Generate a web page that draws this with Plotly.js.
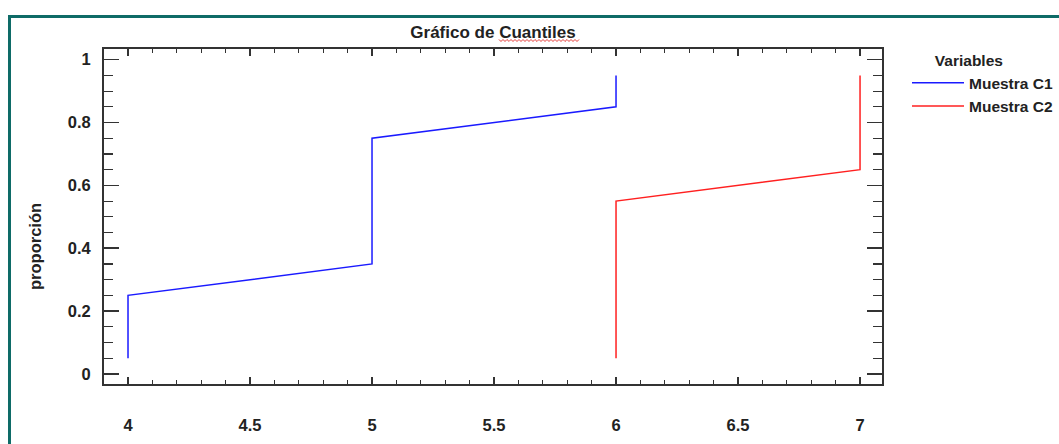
<!DOCTYPE html>
<html>
<head>
<meta charset="utf-8">
<script src="https://cdn.plot.ly/plotly-3.0.1.min.js"></script>
<style>
  html, body { margin: 0; padding: 0; background: #ffffff; overflow: hidden; }
  #frame {
    position: absolute; left: 8px; top: 15px; width: 1200px; height: 600px;
    border-left: 3.5px solid #0e6b67; border-top: 3.5px solid #0e6b67;
    box-sizing: border-box;
  }
  #chart { position: absolute; left: 0; top: 0; width: 1059px; height: 444px; }
</style>
</head>
<body>
<div id="frame"></div>
<div id="chart"></div>
<script>
// Sorted sample values and their plotting proportions
const proporcion = [0.05, 0.15, 0.25, 0.35, 0.45, 0.55, 0.65, 0.75, 0.85, 0.95];
const muestraC1 = [4, 4, 4, 5, 5, 5, 5, 5, 6, 6];
const muestraC2 = [6, 6, 6, 6, 6, 6, 7, 7, 7, 7];
const seriesNames = ['Muestra C1', 'Muestra C2'];
const xTicks = [4, 4.5, 5, 5.5, 6, 6.5, 7];
const yTicks = [0, 0.2, 0.4, 0.6, 0.8, 1];

const FONT = 'Liberation Sans, Arial, sans-serif';
const INK = '#222222';
const FS = 16.5;
const LEG_FS = 15.5;

// plot-area pixel box used to place the title underline
const L = 104, R = 882, T = 49, B = 384;
const px = v => (v - L) / (R - L);
const py = v => (B - v) / (B - T);

// red wavy underline under the second word of the title
let wave = '';
for (let xx = 499, k = 0; xx <= 580; xx += 2, k++) {
  const yy = 40.5 + (k % 2 === 0 ? -1 : 1);
  wave += (k === 0 ? 'M' : 'L') + px(xx).toFixed(5) + ',' + py(yy).toFixed(5) + ' ';
}

const traces = [
  { x: muestraC1, y: proporcion, name: seriesNames[0], type: 'scatter', mode: 'lines',
    line: { color: '#1a1aff', width: 1.5 } },
  { x: muestraC2, y: proporcion, name: seriesNames[1], type: 'scatter', mode: 'lines',
    line: { color: '#ff2020', width: 1.5 } }
];

const axisCommon = {
  showgrid: false, zeroline: false, showline: true, linecolor: '#333333', linewidth: 2,
  mirror: 'allticks', ticks: 'inside', tickcolor: '#333333', tickwidth: 1.5,
  tickfont: { family: FONT, size: FS, color: INK, weight: 'bold' }
};

const layout = {
  width: 1059, height: 444,
  paper_bgcolor: 'rgba(0,0,0,0)', plot_bgcolor: '#ffffff',
  margin: { l: L, r: 1059 - R, t: T, b: 444 - B, pad: 0, autoexpand: false },
  title: {
    text: 'Gráfico de Cuantiles', x: 0.5, xref: 'paper', xanchor: 'center',
    y: 1 - 32 / 444, yref: 'container', yanchor: 'middle',
    font: { family: FONT, size: 17, color: INK, weight: 'bold' }
  },
  xaxis: Object.assign({}, axisCommon, {
    range: [3.9016, 7.09], tickvals: xTicks, ticklen: 7, ticklabelstandoff: 25,
    minor: { dtick: 0.1, ticks: 'inside', ticklen: 4, tickcolor: '#333333', tickwidth: 1.2, showgrid: false }
  }),
  yaxis: Object.assign({}, axisCommon, {
    range: [-0.032, 1.034], tickvals: yTicks, ticktext: ['0', '0.2', '0.4', '0.6', '0.8', '1'],
    ticklen: 15, ticklabelstandoff: 8,
    minor: { dtick: 0.05, ticks: 'inside', ticklen: 9, tickcolor: '#333333', tickwidth: 1.2, showgrid: false }
  }),
  legend: {
    x: px(907), xanchor: 'left', y: py(46), yanchor: 'top',
    bgcolor: 'rgba(0,0,0,0)', borderwidth: 0,
    font: { family: FONT, size: LEG_FS, color: INK, weight: 'bold' },
    title: { text: '      Variables', side: 'top', font: { family: FONT, size: LEG_FS, color: INK, weight: 'bold' } },
    tracegroupgap: 0, itemwidth: 52
  },
  annotations: [
    { text: 'proporción', xref: 'paper', yref: 'paper', x: px(35), y: py(247),
      xanchor: 'center', yanchor: 'middle', textangle: -90, showarrow: false,
      font: { family: FONT, size: FS, color: INK, weight: 'bold' } }
  ],
  shapes: [
    { type: 'path', xref: 'paper', yref: 'paper', path: wave,
      line: { color: '#e53935', width: 1 } }
  ],
  showlegend: true
};

Plotly.newPlot('chart', traces, layout, { displayModeBar: false, staticPlot: true });
</script>
</body>
</html>
